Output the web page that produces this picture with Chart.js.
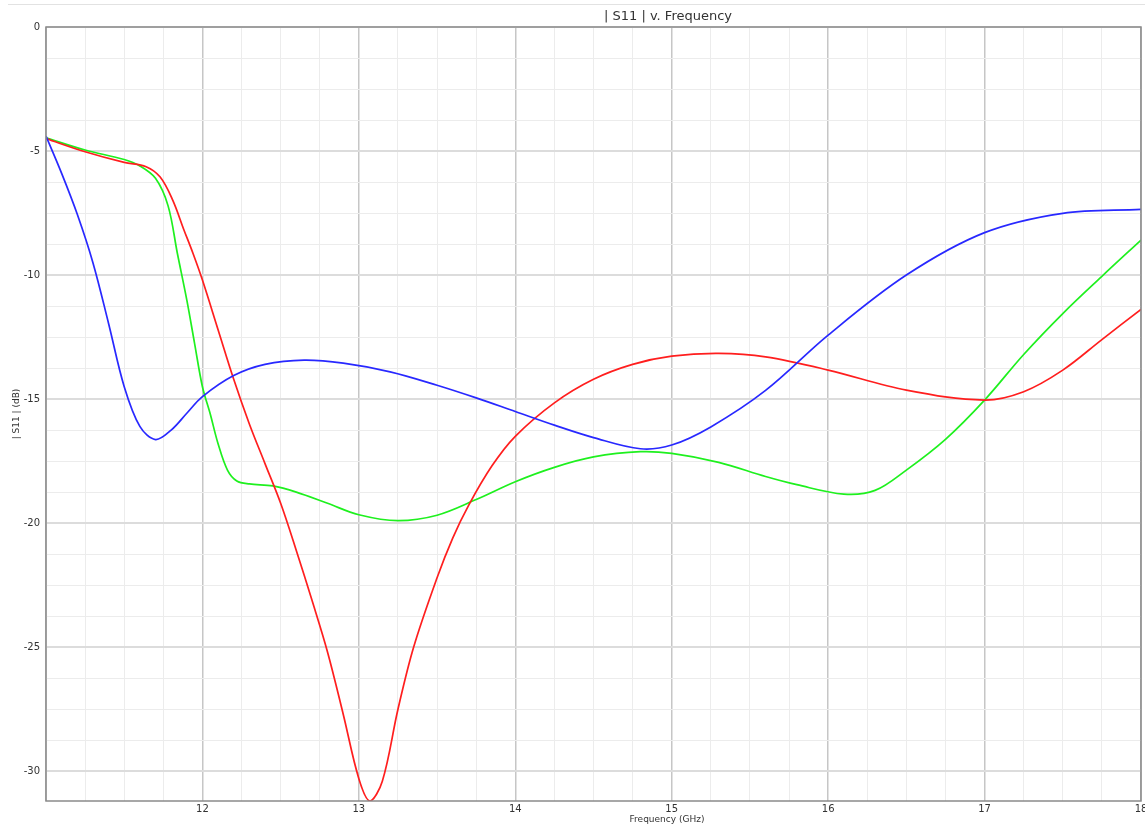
<!DOCTYPE html>
<html>
<head>
<meta charset="utf-8">
<script src="https://cdn.jsdelivr.net/npm/chart.js@4/dist/chart.umd.min.js"></script>
<style>
  html, body { margin: 0; padding: 0; background: #fff; }
  #wrap { position: relative; width: 1145px; height: 828px; }
  #topline { position: absolute; left: 8px; right: 0; top: 4px; height: 1px; background: #e2e2e2; }
  canvas { position: absolute; left: 0; top: 0; }
</style>
</head>
<body>
<div id="wrap">
  <div id="topline"></div>
  <canvas id="s11Chart" width="1145" height="828"></canvas>
</div>
<script>
// |S11| curves (GHz, dB)
const freqBlue = [11.0, 11.1, 11.2, 11.3, 11.4, 11.5, 11.6, 11.7, 11.8, 11.9, 12.0, 12.2, 12.4, 12.65, 12.9, 13.2, 13.5, 13.75, 14.0, 14.25, 14.5, 14.8, 15.0, 15.25, 15.6, 16.0, 16.5, 17.0, 17.5, 18.0];
const s11Blue  = [-4.4, -5.9, -7.55, -9.5, -11.95, -14.5, -16.1, -16.63, -16.25, -15.57, -14.9, -14.05, -13.6, -13.43, -13.55, -13.9, -14.44, -14.95, -15.5, -16.05, -16.55, -17.0, -16.85, -16.12, -14.65, -12.42, -10.0, -8.29, -7.51, -7.35];

const freqRed = [11.0, 11.25, 11.5, 11.64, 11.73, 11.81, 11.88, 11.94, 12.0, 12.1, 12.2, 12.3, 12.4, 12.5, 12.6, 12.7, 12.8, 12.9, 13.0, 13.07, 13.15, 13.25, 13.35, 13.5, 13.6, 13.7, 13.85, 14.0, 14.25, 14.5, 14.75, 15.0, 15.3, 15.6, 16.0, 16.5, 17.0, 17.25, 17.5, 17.75, 18.0];
const s11Red  = [-4.5, -5.03, -5.46, -5.63, -6.05, -6.98, -8.15, -9.13, -10.2, -12.2, -14.2, -16.0, -17.6, -19.2, -21.1, -23.1, -25.2, -27.7, -30.3, -31.2, -30.4, -27.5, -25.0, -22.2, -20.6, -19.3, -17.7, -16.5, -15.15, -14.2, -13.6, -13.27, -13.16, -13.3, -13.83, -14.64, -15.04, -14.7, -13.83, -12.6, -11.38];

const freqGreen = [11.0, 11.25, 11.5, 11.6, 11.7, 11.78, 11.84, 11.9, 11.95, 12.0, 12.05, 12.1, 12.16, 12.22, 12.3, 12.45, 12.6, 12.8, 13.0, 13.25, 13.5, 13.75, 14.0, 14.25, 14.5, 14.8, 15.0, 15.3, 15.6, 15.8, 16.1, 16.3, 16.5, 16.75, 17.0, 17.25, 17.5, 17.75, 18.0];
const s11Green  = [-4.47, -4.96, -5.34, -5.6, -6.1, -7.2, -9.13, -11.0, -12.76, -14.5, -15.6, -16.8, -17.86, -18.3, -18.42, -18.5, -18.75, -19.2, -19.66, -19.9, -19.68, -19.05, -18.33, -17.75, -17.33, -17.12, -17.19, -17.55, -18.12, -18.45, -18.83, -18.68, -17.86, -16.62, -15.04, -13.2, -11.55, -10.05, -8.59];

const xTickLabels = [12, 13, 14, 15, 16, 17, 18];
const yTickLabels = [0, -5, -10, -15, -20, -25, -30];

const chartTitle = "| S11 | v. Frequency";
const xTitle = "Frequency (GHz)";
const yTitle = "| S11 | (dB)";

const toPoints = (xs, ys) => xs.map((x, i) => ({ x: x, y: ys[i] }));

// minor grid every 0.25 GHz and 1.25 dB
const xGrid = [];
for (let i = 0; i <= 28; i++) xGrid.push(11 + i * 0.25);
const yGrid = [];
for (let i = 0; i <= 24; i++) yGrid.push(-i * 1.25);

const isMajorX = v => Math.abs(v - Math.round(v)) < 1e-6;
const isMajorY = v => Math.abs(v / 5 - Math.round(v / 5)) < 1e-6;

const frameAndTitles = {
    id: "frameAndTitles",
    afterDraw(chart) {
        const { ctx, chartArea: a } = chart;
        ctx.save();
        ctx.strokeStyle = "#8a8a8a";
        ctx.lineWidth = 1.5;
        ctx.strokeRect(a.left, a.top, a.right - a.left, a.bottom - a.top);
        ctx.fillStyle = "#333";
        ctx.textAlign = "center";
        ctx.textBaseline = "middle";
        ctx.font = "13px 'DejaVu Sans'";
        ctx.fillText(chartTitle, 668, 17);
        ctx.font = "9px 'DejaVu Sans'";
        ctx.fillText(xTitle, 667, 820);
        ctx.restore();
    }
};

const makeLine = (label, xs, ys, color) => ({
    label: label,
    data: toPoints(xs, ys),
    borderColor: color,
    backgroundColor: "transparent",
    borderWidth: 1.7,
    pointRadius: 0,
    tension: 0.35
});

new Chart(document.getElementById("s11Chart").getContext("2d"), {
    type: "line",
    data: {
        datasets: [
            makeLine("blue", freqBlue, s11Blue, "rgb(40,40,255)"),
            makeLine("red", freqRed, s11Red, "rgb(255,30,30)"),
            makeLine("green", freqGreen, s11Green, "rgb(30,240,30)")
        ]
    },
    options: {
        responsive: false,
        animation: false,
        layout: { padding: { top: 27, right: 4, left: 0, bottom: 0 } },
        plugins: {
            legend: { display: false },
            tooltip: { enabled: false }
        },
        scales: {
            x: {
                type: "linear",
                min: 11,
                max: 18,
                afterBuildTicks: s => { s.ticks = xGrid.map(v => ({ value: v })); },
                afterFit: s => { s.height = 27; s.paddingLeft = 0; s.paddingRight = 0; },
                ticks: {
                    autoSkip: false,
                    maxRotation: 0,
                    padding: 2,
                    color: "#333",
                    font: { family: "DejaVu Sans", size: 10 },
                    callback: v => xTickLabels.includes(Math.round(v * 100) / 100) ? String(v) : ""
                },
                grid: {
                    drawTicks: false,
                    color: c => isMajorX(c.tick.value) ? "#c6c6c6" : "#ececec",
                    lineWidth: c => isMajorX(c.tick.value) ? 1.5 : 1
                },
                border: { display: false }
            },
            y: {
                type: "linear",
                min: -31.2,
                max: 0,
                afterBuildTicks: s => { s.ticks = yGrid.filter(v => v >= -31.2).map(v => ({ value: v })); },
                afterFit: s => { s.width = 46; s.paddingTop = 0; s.paddingBottom = 0; },
                ticks: {
                    autoSkip: false,
                    padding: 6,
                    color: "#333",
                    font: { family: "DejaVu Sans", size: 10 },
                    callback: v => yTickLabels.includes(Math.round(v * 100) / 100) ? String(v) : ""
                },
                title: {
                    display: true,
                    text: yTitle,
                    color: "#333",
                    font: { family: "DejaVu Sans", size: 9 },
                    padding: { top: 11.6, bottom: 0 }
                },
                grid: {
                    drawTicks: false,
                    color: c => isMajorY(c.tick.value) ? "#dcdcdc" : "#ececec",
                    lineWidth: c => isMajorY(c.tick.value) ? 2 : 1
                },
                border: { display: false }
            }
        }
    },
    plugins: [frameAndTitles]
});
</script>
</body>
</html>
